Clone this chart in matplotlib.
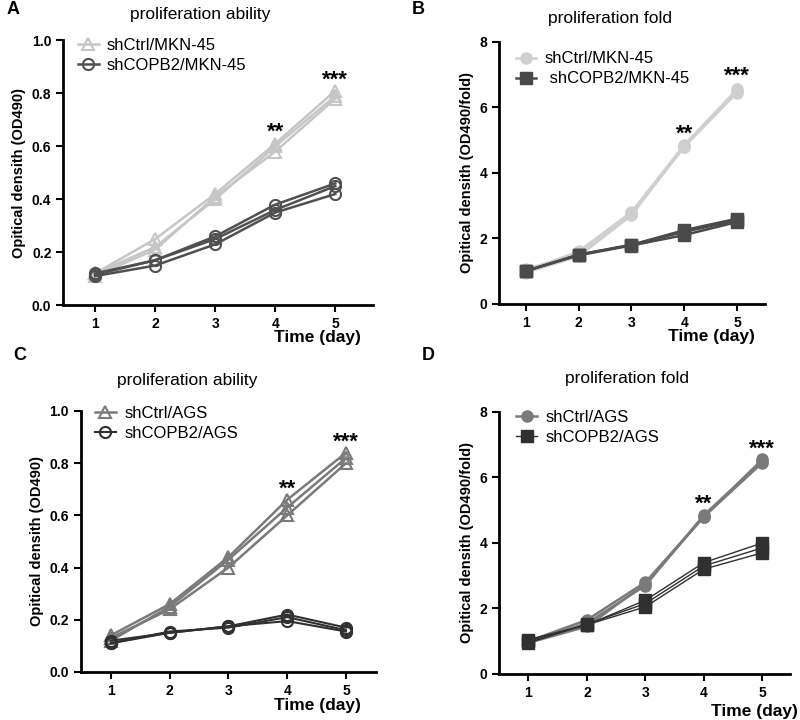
import matplotlib
matplotlib.use("Agg")
import matplotlib.pyplot as plt
import numpy as np

plt.rcParams['font.family'] = ['Liberation Sans', 'DejaVu Sans']

days = [1, 2, 3, 4, 5]

# Panel A: OD490, MKN-45 (three replicates each)
a_ctrl = [[0.12, 0.25, 0.42, 0.61, 0.81],
          [0.11, 0.21, 0.41, 0.58, 0.78],
          [0.12, 0.22, 0.40, 0.60, 0.79]]
a_kd = [[0.12, 0.17, 0.26, 0.38, 0.46],
        [0.11, 0.15, 0.23, 0.35, 0.42],
        [0.115, 0.17, 0.25, 0.36, 0.45]]

# Panel B: fold, MKN-45
b_ctrl = [[1.0, 1.60, 2.80, 4.85, 6.55],
          [0.95, 1.45, 2.70, 4.80, 6.45],
          [1.05, 1.55, 2.75, 4.80, 6.50]]
b_kd = [[1.0, 1.50, 1.80, 2.25, 2.60],
        [1.0, 1.48, 1.78, 2.10, 2.50],
        [1.0, 1.50, 1.80, 2.20, 2.55]]

# Panel C: OD490, AGS
c_ctrl = [[0.14, 0.26, 0.44, 0.66, 0.84],
          [0.13, 0.24, 0.40, 0.60, 0.80],
          [0.12, 0.25, 0.43, 0.63, 0.82]]
c_kd = [[0.11, 0.15, 0.175, 0.22, 0.17],
        [0.12, 0.15, 0.175, 0.195, 0.155],
        [0.11, 0.155, 0.17, 0.21, 0.16]]

# Panel D: fold, AGS
d_ctrl = [[1.0, 1.65, 2.80, 4.80, 6.55],
          [0.95, 1.45, 2.75, 4.80, 6.45],
          [1.0, 1.55, 2.70, 4.85, 6.50]]
d_kd = [[1.0, 1.50, 2.25, 3.40, 4.00],
        [1.05, 1.50, 2.05, 3.20, 3.70],
        [0.95, 1.52, 2.15, 3.30, 3.85]]

W, H = 800, 720

panels = [
    dict(letter='A', title='proliferation ability', ylabel='Opitical densith (OD490)',
         ctrl=a_ctrl, kd=a_kd, labels=['shCtrl/MKN-45', 'shCOPB2/MKN-45'],
         ylim=(0, 1.0), yticks=[0.0, 0.2, 0.4, 0.6, 0.8, 1.0], yfmt='%.1f',
         xlim=(0.47, 5.63), ctrl_c='#c6c6c6', kd_c='#505050',
         ctrl_m='^', kd_m='o', filled=False, kd_lw=1.8,
         pos=[0.079, 0.576, 0.3875, 0.368], star_off=(0.005, 0.0),
         letter_xy=(13, 10), title_xy=(200, 15), xlab_xy=(0.96, -0.095),
         leg_xy=(0.02, 1.04)),
    dict(letter='B', title='proliferation fold', ylabel='Opitical densith (OD490/fold)',
         ctrl=b_ctrl, kd=b_kd, labels=['shCtrl/MKN-45', ' shCOPB2/MKN-45'],
         ylim=(0, 8), yticks=[0, 2, 4, 6, 8], yfmt='%d',
         xlim=(0.5, 5.53), ctrl_c='#cfcfcf', kd_c='#4a4a4a',
         ctrl_m='o', kd_m='s', filled=True, kd_lw=1.8,
         pos=[0.624, 0.578, 0.3325, 0.364], star_off=(0.0, 0.08),
         letter_xy=(418, 10), title_xy=(610, 18), xlab_xy=(0.96, -0.095),
         leg_xy=(0.03, 0.995)),
    dict(letter='C', title='proliferation ability', ylabel='Opitical densith (OD490)',
         ctrl=c_ctrl, kd=c_kd, labels=['shCtrl/AGS', 'shCOPB2/AGS'],
         ylim=(0, 1.0), yticks=[0.0, 0.2, 0.4, 0.6, 0.8, 1.0], yfmt='%.1f',
         xlim=(0.49, 5.51), ctrl_c='#7a7a7a', kd_c='#303030',
         ctrl_m='^', kd_m='o', filled=False, kd_lw=1.5,
         pos=[0.101, 0.0667, 0.369, 0.3625], star_off=(0.0, 0.0),
         letter_xy=(20, 356), title_xy=(187, 380), xlab_xy=(0.95, -0.1),
         leg_xy=(0.02, 1.05)),
    dict(letter='D', title='proliferation fold', ylabel='Opitical densith (OD490/fold)',
         ctrl=d_ctrl, kd=d_kd, labels=['shCtrl/AGS', 'shCOPB2/AGS'],
         ylim=(0, 8), yticks=[0, 2, 4, 6, 8], yfmt='%d',
         xlim=(0.5, 5.48), ctrl_c='#7a7a7a', kd_c='#303030',
         ctrl_m='o', kd_m='s', filled=True, kd_lw=1.0,
         pos=[0.624, 0.0639, 0.364, 0.364], star_off=(0.0, 0.0),
         letter_xy=(428, 356), title_xy=(627, 379), xlab_xy=(1.025, -0.115),
         leg_xy=(0.03, 1.04)),
]

fig = plt.figure(figsize=(8, 7.2), dpi=100)
fig.patch.set_facecolor('white')

for p in panels:
    ax = fig.add_axes(p['pos'])
    for spine in ['top', 'right']:
        ax.spines[spine].set_visible(False)
    for spine in ['left', 'bottom']:
        ax.spines[spine].set_linewidth(2)
        ax.spines[spine].set_color('black')
    handles = []
    for grp, col, mk, lw in [(p['ctrl'], p['ctrl_c'], p['ctrl_m'], 1.8),
                             (p['kd'], p['kd_c'], p['kd_m'], p['kd_lw'])]:
        for i, rep in enumerate(grp):
            if p['filled']:
                ms = 9 if mk == 's' else 8
                h, = ax.plot(days, rep, color=col, lw=lw, marker=mk, ms=ms,
                             mfc=col, mec=col, zorder=3)
            else:
                h, = ax.plot(days, rep, color=col, lw=lw, marker=mk, ms=8,
                             mfc='none', mec=col, mew=1.5, zorder=3)
            if i == 0:
                handles.append(h)
    ax.set_xlim(*p['xlim'])
    ax.set_ylim(*p['ylim'])
    ax.set_xticks(days)
    ax.set_yticks(p['yticks'])
    ax.set_yticklabels([p['yfmt'] % v for v in p['yticks']])
    ax.tick_params(axis='both', width=1.5, length=5, labelsize=10, direction='out')
    for lbl in ax.get_xticklabels() + ax.get_yticklabels():
        lbl.set_fontweight('bold')
    ax.set_ylabel(p['ylabel'], fontsize=10.5, fontweight='bold')
    ax.set_xlabel('Time (day)', fontsize=12.5, fontweight='bold')
    ax.xaxis.set_label_coords(*p['xlab_xy'])
    ax.xaxis.label.set_horizontalalignment('right')
    ax.xaxis.label.set_verticalalignment('top')
    fig.text(p['letter_xy'][0] / W, 1 - p['letter_xy'][1] / H, p['letter'],
             fontsize=13, fontweight='bold', ha='center', va='center')
    fig.text(p['title_xy'][0] / W, 1 - p['title_xy'][1] / H, p['title'],
             fontsize=12.5, ha='center', va='center')
    # significance marks
    top4 = max(r[3] for r in p['ctrl'])
    top5 = max(r[4] for r in p['ctrl'])
    ax.text(4, top4 + p['star_off'][0], '**', ha='center', va='bottom', fontsize=16,
            fontweight='bold')
    ax.text(5, top5 + p['star_off'][1], '***', ha='center', va='bottom', fontsize=16,
            fontweight='bold')
    ax.legend(handles=handles, labels=p['labels'], loc='upper left', frameon=False,
              fontsize=12, handlelength=1.25, handletextpad=0.5, borderaxespad=0.1,
              labelspacing=0.3, bbox_to_anchor=p['leg_xy'])

fig.savefig('out.png', dpi=100, facecolor='white')
